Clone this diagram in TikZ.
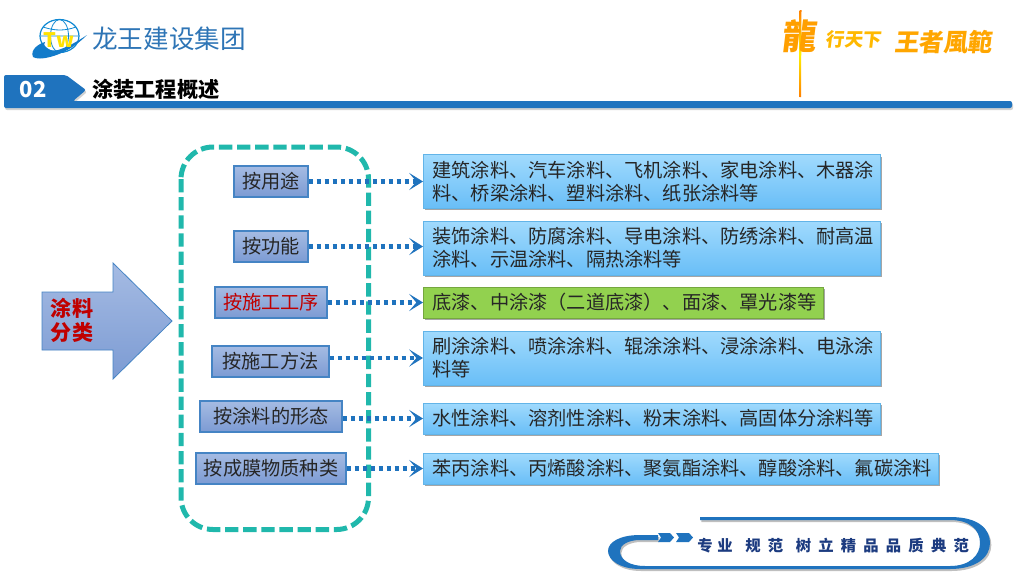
\documentclass[tikz,border=0pt]{standalone}
\usepackage{fontspec}
\setmainfont{Noto Sans CJK SC}
\usetikzlibrary{arrows.meta,shadows}
\definecolor{bannerblue}{HTML}{1F73BE}
\definecolor{titleblue}{HTML}{2E75B6}
\definecolor{teal}{HTML}{20B8AC}
\definecolor{labeltop}{HTML}{A5BBE3}
\definecolor{labelbot}{HTML}{7C9BD3}
\definecolor{labeledge}{HTML}{4584C4}
\definecolor{desctop}{HTML}{A0DAFD}
\definecolor{descbot}{HTML}{69BEF7}
\definecolor{descedge}{HTML}{62B4E8}
\definecolor{greenfill}{HTML}{92D14F}
\definecolor{redtext}{HTML}{C00000}
\definecolor{navy}{HTML}{1C3B80}
\newcommand{\gapA}{\hspace{5.4pt}}
\newcommand{\gapB}{\hspace{9.5pt}}
\newcommand{\gapC}{\hspace{3.5pt}}
\tikzset{
  x=0.75pt,y=-0.75pt,
  softshadow/.style={general shadow={shadow xshift=1.2pt,shadow yshift=-1.5pt,fill=black,opacity=.35}},
  labelbox/.style={draw=labeledge,line width=0.9pt,top color=labeltop,bottom color=labelbot,inner sep=0pt,
    minimum height=23.25pt,font=\fontsize{14.4}{17}\selectfont,text=black!85},
  descbox/.style={draw=descedge,line width=0.6pt,top color=desctop,bottom color=descbot,softshadow,anchor=west,
    inner ysep=0pt,inner xsep=6.75pt,align=left,font=\fontsize{14.4}{17.25}\selectfont,text=black!85},
  flow/.style={draw=bannerblue,line width=3.3pt,dash pattern=on 3.4pt off 2.6pt,
    -{Stealth[length=10.5pt,width=13pt,inset=5.5pt,line width=0pt]}},
  motif/.style={inner sep=0pt,xslant=0.12,transform shape,font=\bfseries},
}
\begin{document}
\begin{tikzpicture}
\path[use as bounding box,fill=white] (0,0) rectangle (1024,576);

% logo
\draw[draw=cyan!70!blue,line width=0.9pt] (59.5,36) ellipse (19.5 and 16.5);
\draw[draw=cyan!70!blue,line width=0.6pt] (59.5,36) ellipse (9 and 16.5);
\draw[draw=cyan!70!blue,line width=0.6pt] (40,36) -- (79,36) (43,27) .. controls (55,31) and (65,31) .. (76,27);
\fill[cyan!60!blue] (33,57) .. controls (30,50) and (38,44) .. (45,42) .. controls (42,48) and (50,52) .. (58,50) .. controls (68,47) and (78,41) .. (87,35) .. controls (75,47) and (62,54) .. (50,57) .. controls (43,59) and (36,59) .. (33,57) -- cycle;
\node[font=\bfseries\fontsize{15}{15}\selectfont,text=yellow!85!orange,inner sep=0pt] (logotext) at (59,40) {Tw};
\node[anchor=west,inner sep=0pt,font=\fontsize{19.2}{19}\selectfont,text=titleblue] (company) at (92,39) {龙王建设集团};

% banner
\path[fill=bannerblue,rounded corners=1.5pt,drop shadow={shadow xshift=0.8pt,shadow yshift=-1.5pt,opacity=.35}]
  (4,75) -- (66,75) -- (86,90) -- (73,101) -- (1012,101) -- (1012,108) -- (4,108) -- cycle;
\node[font=\bfseries\fontsize{16.5}{16.5}\selectfont,text=white,inner sep=0pt] (num) at (33,90) {02};
\node[anchor=west,inner sep=0pt,font=\bfseries\fontsize{15.9}{16}\selectfont,text=black] (section) at (92,89) {涂装工程概述};

% calligraphy motto
\shade[top color=orange,bottom color=orange,middle color=yellow!90!orange] (799.5,10) -- (801.5,10) -- (801,97) -- (799.5,97) -- cycle;
\node[motif,font=\bfseries\fontsize{26}{26}\selectfont,text=orange!75!yellow] (m1) at (800,36) {龍};
\node[motif,anchor=west,font=\bfseries\fontsize{14}{14}\selectfont,text=orange!55!yellow] (m2) at (826,39) {行天下};
\node[motif,anchor=west,font=\bfseries\fontsize{18.4}{18}\selectfont,text=orange!70!yellow] (m3) at (895,42) {王者風範};

% big arrow
\path[draw=labeledge,line width=0.6pt,top color=labeltop,bottom color=labelbot]
  (42,292) -- (113,292) -- (113,263) -- (172,321) -- (113,379) -- (113,350) -- (42,350) -- cycle;
\node[align=center,inner sep=0pt,font=\bfseries\fontsize{15.8}{18}\selectfont,text=redtext] (cat) at (72,320.5) {涂料\\分类};

% dashed frame
\draw[teal,line width=3.75pt,dash pattern=on 10pt off 3.6pt,rounded corners=24pt] (181,147) rectangle (368.5,529.5);

% labels
\node[labelbox,minimum width=55.5pt] (l1) at (271,181.5) {按用途};
\node[labelbox,minimum width=55.5pt] (l2) at (271,246.5) {按功能};
\node[labelbox,minimum width=84pt,text=redtext] (l3) at (271,302.5) {按施工工序};
\node[labelbox,minimum width=87.75pt] (l4) at (270.5,361.5) {按施工方法\hspace{3pt}};
\node[labelbox,minimum width=106.5pt] (l5) at (271,416.5) {按涂料的形态\hspace{7pt}};
\node[labelbox,minimum width=112.5pt] (l6) at (271,468.5) {按成膜物质种类};

% descriptions
\node[descbox,text width=329.25pt,minimum height=40pt] (r1) at (423,181.5) {建筑涂料、汽车涂料、飞机涂料、家电涂料、木器涂\\料、桥梁涂料、塑料涂料、纸张涂料等};
\node[descbox,text width=329.25pt,minimum height=40.5pt] (r2) at (423,248) {装饰涂料、防腐涂料、导电涂料、防绣涂料、耐高温\\涂料、示温涂料、隔热涂料等};
\node[descbox,text width=286.5pt,minimum height=23.25pt,draw=greenfill!80!black,top color=greenfill,bottom color=greenfill] (r3) at (423,302.5) {底漆、中涂漆（二道底漆）、面漆、罩光漆等};
\node[descbox,text width=329.25pt,minimum height=40.5pt] (r4) at (423,358) {刷涂涂料、喷涂涂料、辊涂涂料、浸涂涂料、电泳涂\\料等};
\node[descbox,text width=329.25pt,minimum height=23.25pt] (r5) at (423,418.5) {水性涂料、溶剂性涂料、粉末涂料、高固体分涂料等};
\node[descbox,text width=372.5pt,minimum height=23.25pt] (r6) at (423,468.5) {苯丙涂料、丙烯酸涂料、聚氨酯涂料、醇酸涂料、氟碳涂料};

% connectors
\draw[flow] (l1.east) -- (r1.west);
\draw[flow] (l2.east) -- (l2.east -| r2.west);
\draw[flow] (l3.east) -- (r3.west);
\draw[flow] (l4.east |- r4.west) -- (r4.west);
\draw[flow] (l5.east |- r5.west) -- (r5.west);
\draw[flow] (l6.east) -- (r6.west);

% footer frame
\path[fill=bannerblue,general shadow={shadow xshift=1pt,shadow yshift=-1.5pt,fill=black,opacity=.25}]
  (700,517) -- (950,517) .. controls (980,517) and (990,530) .. (990,543)
  .. controls (990,558) and (975,569) .. (950,569) -- (640,569)
  .. controls (620,569) and (608,560) .. (608,551) .. controls (608,542) and (620,535) .. (640,535)
  -- (658,535) -- (658,540) -- (640,540) .. controls (628,540) and (620,545) .. (620,551)
  .. controls (620,560) and (630,566) .. (645,566) -- (950,566)
  .. controls (970,566) and (980,555) .. (980,543) .. controls (980,530) and (970,520) .. (950,520)
  -- (700,520) -- cycle;
\fill[bannerblue] (658,533) -- (670,533) -- (674,537.5) -- (670,542) -- (658,542) -- (661,537.5) -- cycle;
\fill[bannerblue] (676,533) -- (689,533) -- (693,537.5) -- (689,542) -- (676,542) -- (679,537.5) -- cycle;
\node[anchor=west,inner sep=0pt,font=\bfseries\fontsize{11.5}{12}\selectfont,text=navy] (motto) at (697,546) {专\gapC 业\gapB 规\gapA 范\gapB 树\gapA 立\gapA 精\gapA 品\gapA 品\gapA 质\gapA 典\gapA 范};
\end{tikzpicture}
\end{document}
